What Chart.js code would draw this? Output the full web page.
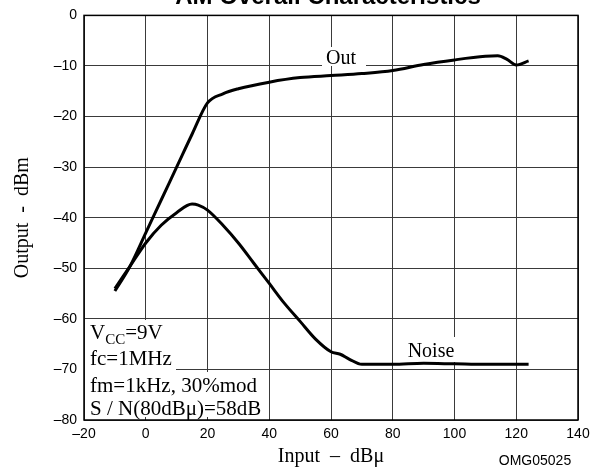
<!DOCTYPE html>
<html>
<head>
<meta charset="utf-8">
<script src="https://cdn.jsdelivr.net/npm/chart.js@4.4.1/dist/chart.umd.min.js"></script>
<style>
    html, body { margin: 0; padding: 0; background: #fff; }
    #wrap { width: 601px; height: 472px; }
</style>
</head>
<body>
<div id="wrap"><canvas id="amChart" width="601" height="472"></canvas></div>
<script>
// values
const outX   = [-10, -5, 0, 5, 10, 15, 20, 25, 30, 40, 50, 60, 70, 80, 90, 100, 110, 114, 117, 120, 124];
const outY   = [-54.5, -49.5, -43, -36.5, -30, -23.5, -17.3, -15.5, -14.5, -13.2, -12.3, -11.9, -11.5, -10.9, -9.7, -8.8, -8.1, -8.0, -8.7, -9.8, -9.0];
const noiseX = [-10, -5, 0, 5, 10, 15, 17, 20, 25, 30, 35, 40, 45, 50, 55, 60, 63, 66, 70, 80, 90, 100, 110, 124];
const noiseY = [-54, -49.5, -45, -41.5, -39, -37.3, -37.5, -38.5, -41.5, -45, -49, -53, -57, -60.5, -64, -66.5, -67, -68, -69, -69, -68.8, -68.9, -69, -69];
const xTicks = [-20, 0, 20, 40, 60, 80, 100, 120, 140];
const yTicks = [0, -10, -20, -30, -40, -50, -60, -70, -80];

const toPoints = (xs, ys) => xs.map((x, i) => ({ x: x, y: ys[i] }));
const dash = v => (v < 0 ? '\u2013' + Math.abs(v) : String(v));

const SERIF = "'Liberation Serif', 'DejaVu Serif', serif";
const SANS = "'Liberation Sans', Arial, sans-serif";

// labels, text box and frame
const annotate = {
    id: 'annotate',
    beforeDatasetsDraw(chart) {
        const ctx = chart.ctx;
        const a = chart.chartArea;
        ctx.save();
        // white backgrounds that hide the grid under the texts
        ctx.fillStyle = '#fff';
        ctx.fillRect(a.left + 1, 320, 91, 52);
        ctx.fillRect(a.left + 1, 372, 178, a.bottom - 372 - 3);
        ctx.fillRect(322, 47, 44, 19);
        ctx.fillRect(405, 337, 52, 25);

        ctx.fillStyle = '#000';
        ctx.textBaseline = 'alphabetic';
        ctx.textAlign = 'left';
        ctx.font = '21px ' + SERIF;
        let x = 90;
        ctx.fillText('V', x, 339);
        x += ctx.measureText('V').width;
        ctx.font = '15px ' + SERIF;
        ctx.fillText('CC', x, 344);
        x += ctx.measureText('CC').width;
        ctx.font = '21px ' + SERIF;
        ctx.fillText('=9V', x, 339);
        ctx.fillText('fc=1MHz', 90, 365);
        ctx.fillText('fm=1kHz, 30%mod', 90, 392);
        ctx.fillText('S / N(80dB\u03bc)=58dB', 90, 415);

        ctx.font = '20px ' + SERIF;
        ctx.textAlign = 'center';
        ctx.fillText('Out', 341, 64);
        ctx.fillText('Noise', 431, 357);
        ctx.restore();
    },
    afterDraw(chart) {
        const ctx = chart.ctx;
        const a = chart.chartArea;
        ctx.save();
        ctx.strokeStyle = '#000';
        ctx.lineWidth = 1.5;
        ctx.strokeRect(a.left, a.top, a.right - a.left, a.bottom - a.top);

        ctx.fillStyle = '#000';
        ctx.textAlign = 'center';
        ctx.textBaseline = 'alphabetic';
        ctx.font = 'bold 24px ' + SANS;
        ctx.fillText('AM Overall Characteristics', 328, 4);

        ctx.font = '20px ' + SERIF;
        ctx.fillText('Input  \u2013  dB\u03bc', (a.left + a.right) / 2, 462);

        ctx.font = '14px ' + SANS;
        ctx.fillText('OMG05025', 535, 465);

        ctx.translate(28, (a.top + a.bottom) / 2);
        ctx.rotate(-Math.PI / 2);
        ctx.font = '20px ' + SERIF;
        ctx.fillText('Output  -  dBm', 0, 0);
        ctx.restore();
    }
};

const lineStyle = {
    borderColor: '#000',
    borderWidth: 3,
    pointRadius: 0,
    fill: false,
    cubicInterpolationMode: 'monotone'
};

new Chart(document.getElementById('amChart').getContext('2d'), {
    type: 'line',
    data: {
        datasets: [
            Object.assign({ label: 'Out', data: toPoints(outX, outY) }, lineStyle),
            Object.assign({ label: 'Noise', data: toPoints(noiseX, noiseY) }, lineStyle)
        ]
    },
    options: {
        responsive: false,
        animation: false,
        devicePixelRatio: 1,
        layout: { padding: { top: 12, right: 23, left: 0, bottom: 0 } },
        plugins: { legend: { display: false }, tooltip: { enabled: false } },
        scales: {
            x: {
                type: 'linear',
                min: -20, max: 140,
                afterBuildTicks: s => { s.ticks = xTicks.map(v => ({ value: v })); },
                afterFit: s => { s.height = 52; },
                grid: { color: '#3a3a3a', lineWidth: 1, drawTicks: false, tickLength: 0 },
                border: { display: false },
                ticks: {
                    color: '#000', padding: 6, maxRotation: 0,
                    font: { family: SANS, size: 14 },
                    callback: v => dash(v)
                }
            },
            y: {
                type: 'linear',
                min: -80, max: 0,
                afterBuildTicks: s => { s.ticks = yTicks.map(v => ({ value: v })); },
                afterFit: s => { s.width = 84; },
                grid: { color: '#3a3a3a', lineWidth: 1, drawTicks: false, tickLength: 0 },
                border: { display: false },
                ticks: {
                    color: '#000', padding: 7,
                    font: { family: SANS, size: 14 },
                    callback: v => dash(v)
                }
            }
        }
    },
    plugins: [annotate]
});
</script>
</body>
</html>
